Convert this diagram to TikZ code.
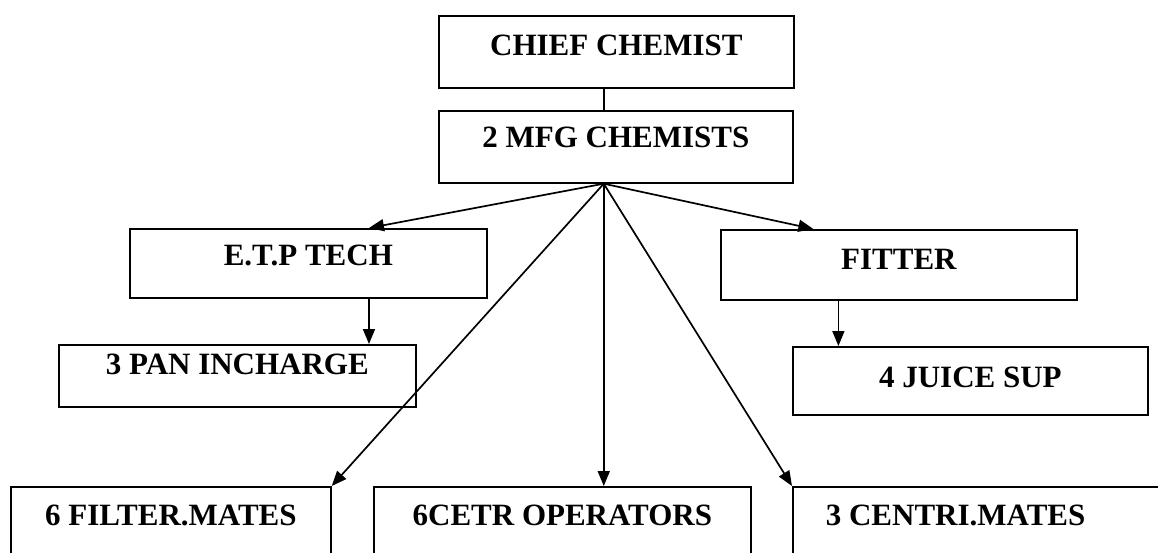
\documentclass[tikz,border=0pt]{standalone}
\usepackage{fontspec}
\setmainfont{Liberation Serif}
\usetikzlibrary{arrows.meta,calc}
\begin{document}
\begin{tikzpicture}[x=1pt,y=-1pt,
  box/.style={draw, line width=1.7pt, inner xsep=0pt, inner ysep=0pt,
    anchor=north west, font=\fontsize{31}{36}\selectfont\bfseries},
  link/.style={line width=1.7pt},
  arr/.style={link, -{Triangle[length=15pt,width=12pt]}}
]
\clip (0,0) rectangle (1158,553);

% management
\node[box, minimum width=355pt, text height=40pt, text depth=32pt] (chief) at (438,15) {CHIEF CHEMIST};
\node[box, minimum width=354pt, text height=37pt, text depth=35pt] (mfg) at (438,110) {2 MFG CHEMISTS};

% second level
\node[box, minimum width=357pt, text height=37pt, text depth=32pt] (etp) at (129,228) {E.T.P TECH};
\node[box, minimum width=356pt, text height=40pt, text depth=30pt] (fitter) at (720,229) {FITTER};
\node[box, minimum width=357pt, text height=30pt, text depth=32pt] (pan) at (58,344) {3 PAN INCHARGE};
\node[box, minimum width=355pt, text height=41pt, text depth=27pt] (juice) at (792,346) {4 JUICE SUP};

% floor staff
\node[box, minimum width=320pt, text height=39pt, text depth=50pt] (filter) at (10,486) {6 FILTER.MATES};
\node[box, minimum width=377pt, text height=39pt, text depth=50pt] (cetr) at (373,486) {6CETR OPERATORS};
\node[box, text height=39pt, text depth=50pt] (centri) at (792,486) {\makebox[388pt][l]{\hspace*{33pt}3 CENTRI.MATES}};

% connectors
\coordinate (fan) at ($(mfg.south west)!0.466!(mfg.south east)$);
\coordinate (etpin) at ($(etp.north west)!0.669!(etp.north east)$);
\coordinate (fitin) at ($(fitter.north west)!0.261!(fitter.north east)$);
\coordinate (fitout) at ($(fitter.south west)!0.331!(fitter.south east)$);

\draw[link] (fan |- chief.south) -- (fan |- mfg.north);
\draw[arr] (fan) -- (etpin);
\draw[arr] (fan) -- (fitin);
\draw[arr] (etpin |- etp.south) -- (etpin |- pan.north);
\draw[arr] (fitout) -- (fitout |- juice.north);
\draw[arr] (fan) -- (filter.north east);
\draw[arr] (fan) -- (fan |- cetr.north);
\draw[arr] (fan) -- (centri.north west);
\end{tikzpicture}
\end{document}
